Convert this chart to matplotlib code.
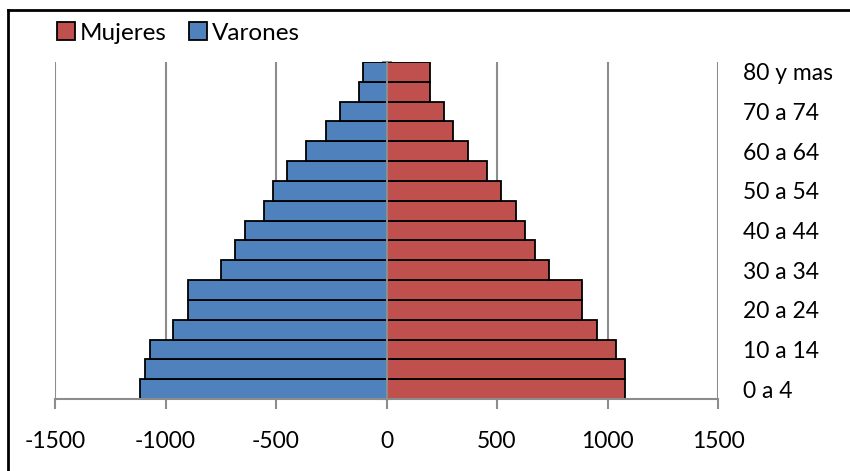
import matplotlib
matplotlib.use("Agg")
import matplotlib.pyplot as plt
from matplotlib.patches import Patch
import numpy as np

plt.rcParams['font.family'] = ['Lato', 'DejaVu Sans']

# age groups, bottom (0 a 4) to top (80 y mas)
grupos = ['0 a 4', '5 a 9', '10 a 14', '15 a 19', '20 a 24', '25 a 29',
          '30 a 34', '35 a 39', '40 a 44', '45 a 49', '50 a 54', '55 a 59',
          '60 a 64', '65 a 69', '70 a 74', '75 a 79', '80 y mas']
varones = [-1116, -1094, -1072, -965, -900, -900, -749, -686, -642, -555,
           -512, -449, -362, -274, -210, -124, -105]
mujeres = [1079, 1079, 1037, 951, 886, 886, 735, 670, 626, 584,
           519, 456, 368, 303, 260, 196, 196]
xticks = [-1500, -1000, -500, 0, 500, 1000, 1500]

azul = '#4F81BD'
rojo = '#C0504D'
gris = '#8C8C8C'

fig = plt.figure(figsize=(8.5, 4.71), dpi=100)
ax = fig.add_axes([55 / 850, 1 - 399 / 471, (718 - 55) / 850, (399 - 62) / 471])

y = np.arange(len(grupos))
ax.barh(y, varones, height=1.0, color=azul, edgecolor='black', linewidth=1.3, zorder=2)
ax.barh(y, mujeres, height=1.0, color=rojo, edgecolor='black', linewidth=1.3, zorder=2)

ax.set_xlim(-1500, 1500)
ax.set_ylim(-0.5, len(grupos) - 0.5)

# vertical grid
for v in xticks:
    if v != 0:
        ax.axvline(v, color=gris, linewidth=1.5, zorder=1)

ax.set_xticks(xticks)
ax.set_xticklabels([str(v) for v in xticks], fontsize=16.5)
ax.tick_params(axis='x', direction='out', length=7, width=1.5, color=gris, pad=16)

# category axis at zero
ax.spines['left'].set_position(('data', 0))
ax.spines['left'].set_color(gris)
ax.spines['left'].set_linewidth(1.5)
ax.spines['left'].set_zorder(3)
ax.set_yticks(np.arange(len(grupos) + 1) - 0.5)
ax.set_yticklabels([])
ax.tick_params(axis='y', direction='inout', length=7, width=1.5, color=gris)
ax.spines['bottom'].set_color(gris)
ax.spines['bottom'].set_linewidth(1.5)
ax.spines['top'].set_visible(False)
ax.spines['right'].set_visible(False)

# category labels on the right
ax2 = ax.twinx()
ax2.set_ylim(ax.get_ylim())
ax2.set_yticks(y[::2])
ax2.set_yticklabels(grupos[::2], fontsize=16.5)
ax2.tick_params(axis='y', length=0, pad=18)
for s in ax2.spines.values():
    s.set_visible(False)

handles = [Patch(facecolor=rojo, edgecolor='black', linewidth=1.3, label='Mujeres'),
           Patch(facecolor=azul, edgecolor='black', linewidth=1.3, label='Varones')]
fig.legend(handles=handles, loc='center left', bbox_to_anchor=(57 / 850, 1 - 33 / 471),
           ncol=2, frameon=False, fontsize=17.5, handlelength=0.75, handleheight=0.75,
           handletextpad=0.2, columnspacing=0.9, borderpad=0, borderaxespad=0)

# outer border (top and left edges visible)
fig.add_artist(plt.Line2D([8 / 850, 8 / 850], [0, 1 - 10 / 471], color='black',
                          linewidth=2, transform=fig.transFigure))
fig.add_artist(plt.Line2D([8 / 850, 1], [1 - 10 / 471, 1 - 10 / 471], color='black',
                          linewidth=2, transform=fig.transFigure))

fig.savefig('out.png', dpi=100)
